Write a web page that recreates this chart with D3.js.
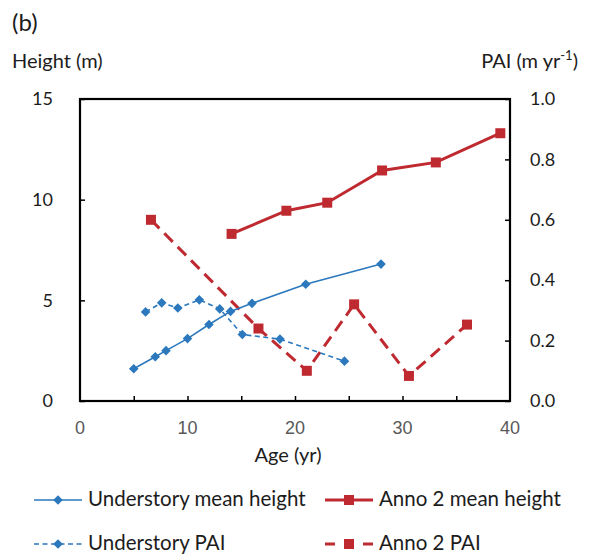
<!DOCTYPE html>
<html>
<head>
<meta charset="utf-8">
<script src="https://cdn.jsdelivr.net/npm/d3@7"></script>
<style>
  html, body { margin: 0; padding: 0; background: #fff; }
  svg { display: block; }
  .lbl { font-family: Lato, "Open Sans", sans-serif; fill: #1c1c1c; }
  .xtick { font-family: "Liberation Sans", Arial, sans-serif; fill: #595959; }
</style>
</head>
<body>
<svg id="chart" width="594" height="556"></svg>
<script>
// data (b)
const underAge    = [5, 7, 8, 10, 12, 14, 16, 21, 28];
const underHeight = [1.6, 2.2, 2.5, 3.1, 3.8, 4.45, 4.85, 5.8, 6.8];

const underPaiAge = [6.1, 7.6, 9.1, 11.1, 13, 15.1, 18.6, 24.6];
const underPai    = [0.295, 0.325, 0.308, 0.335, 0.305, 0.22, 0.205, 0.132];

const annoAge    = [14.1, 19.2, 23, 28.1, 33.1, 39.1];
const annoHeight = [8.3, 9.45, 9.85, 11.45, 11.85, 13.3];

const annoPaiAge = [6.6, 16.6, 21.1, 25.5, 30.6, 36];
const annoPai    = [0.6, 0.24, 0.1, 0.32, 0.083, 0.253];

const xTicks     = [0, 10, 20, 30, 40];
const xMinor     = [5, 10, 15, 20, 25, 30, 35];
const leftTicks  = [0, 5, 10, 15];
const rightTicks = [0, 0.2, 0.4, 0.6, 0.8, 1.0];

const BLUE = "#2b78bd";
const RED = "#bf2a30";

const svg = d3.select("#chart");

const x = d3.scaleLinear().domain([0, 40]).range([80, 510]);
const yL = d3.scaleLinear().domain([0, 15]).range([401, 99]);
const yR = d3.scaleLinear().domain([0, 1]).range([401, 99]);

/* ---------------- axes ---------------- */

// bottom: minor ticks inside, labels every 10
const xAxisG = svg.append("g")
    .attr("transform", `translate(0,${yL(0)})`)
    .call(d3.axisBottom(x).tickValues(xMinor).tickSizeInner(-5).tickSizeOuter(0).tickFormat(""));
xAxisG.select(".domain").remove();
xAxisG.selectAll("line").attr("stroke", "#000").attr("stroke-width", 1.5);

svg.append("g").selectAll("text")
    .data(xTicks)
    .join("text")
    .attr("class", "xtick")
    .attr("x", d => x(d))
    .attr("y", yL(0) + 33)
    .attr("text-anchor", "middle")
    .attr("font-size", 18)
    .text(d => d);

const leftG = svg.append("g")
    .attr("transform", `translate(${x(0)},0)`)
    .call(d3.axisLeft(yL).tickValues(leftTicks).tickSizeInner(-5).tickSizeOuter(0).tickPadding(27));
leftG.select(".domain").remove();
leftG.selectAll("line").attr("stroke", "#000").attr("stroke-width", 1.5);
leftG.selectAll("text").attr("class", "lbl").attr("font-size", 18).attr("font-family", null);

const rightG = svg.append("g")
    .attr("transform", `translate(${x(40)},0)`)
    .call(d3.axisRight(yR).tickValues(rightTicks).tickSizeInner(-5).tickSizeOuter(0).tickPadding(20)
        .tickFormat(d3.format(".1f")));
rightG.select(".domain").remove();
rightG.selectAll("line").attr("stroke", "#000").attr("stroke-width", 1.5);
rightG.selectAll("text").attr("class", "lbl").attr("font-size", 18).attr("font-family", null);

// plot frame
svg.append("rect")
    .attr("x", x(0)).attr("y", yL(15))
    .attr("width", x(40) - x(0)).attr("height", yL(0) - yL(15))
    .attr("fill", "none").attr("stroke", "#000").attr("stroke-width", 2.2);

/* ---------------- series ---------------- */

// diamond = square turned 45 degrees
function marker(size) {
    return d3.symbol().type(d3.symbolSquare).size(size)();
}
function markerRot(shape) {
    return shape === "diamond" ? " rotate(45)" : "";
}

function drawSeries(s) {
    const pts = s.ages.map((a, i) => [x(a), s.y(s.vals[i])]);
    svg.append("path")
        .attr("d", d3.line()(pts))
        .attr("fill", "none")
        .attr("stroke", s.color)
        .attr("stroke-width", s.width)
        .attr("stroke-dasharray", s.dash || null);
    svg.append("g").selectAll("path")
        .data(pts)
        .join("path")
        .attr("transform", d => `translate(${d[0]},${d[1]})${markerRot(s.shape)}`)
        .attr("d", marker(s.size))
        .attr("fill", s.color);
}

const series = [
    { name: "Understory mean height", ages: underAge, vals: underHeight, y: yL,
      color: BLUE, width: 1.6, dash: null, shape: "diamond", size: 46 },
    { name: "Anno 2 mean height", ages: annoAge, vals: annoHeight, y: yL,
      color: RED, width: 3, dash: null, shape: "square", size: 100 },
    { name: "Understory PAI", ages: underPaiAge, vals: underPai, y: yR,
      color: BLUE, width: 1.6, dash: "5,3.5", shape: "diamond", size: 46 },
    { name: "Anno 2 PAI", ages: annoPaiAge, vals: annoPai, y: yR,
      color: RED, width: 3, dash: "12,7", shape: "square", size: 100 }
];

// draw order: dashed first, then solid
[series[3], series[2], series[1], series[0]].forEach(drawSeries);

/* ---------------- labels ---------------- */

svg.append("text").attr("class", "lbl")
    .attr("x", 12).attr("y", 31).attr("font-size", 24).text("(b)");

svg.append("text").attr("class", "lbl")
    .attr("x", 12).attr("y", 68).attr("font-size", 20).text("Height (m)");

const pai = svg.append("text").attr("class", "lbl")
    .attr("x", 578).attr("y", 68).attr("font-size", 20).attr("text-anchor", "end");
pai.append("tspan").text("PAI (m yr");
pai.append("tspan").attr("font-size", 13).attr("dy", -8).text("-1");
pai.append("tspan").attr("dy", 8).text(")");

svg.append("text").attr("class", "lbl")
    .attr("x", 288).attr("y", 462).attr("font-size", 20).attr("text-anchor", "middle")
    .text("Age (yr)");

/* ---------------- legend ---------------- */

const legendPos = [
    { x: 34, y: 500 }, { x: 325, y: 500 },
    { x: 34, y: 544 }, { x: 325, y: 544 }
];

series.forEach((s, i) => {
    const p = legendPos[i];
    const g = svg.append("g").attr("transform", `translate(${p.x},${p.y})`);
    g.append("line")
        .attr("x1", 0).attr("x2", 48).attr("y1", 0).attr("y2", 0)
        .attr("stroke", s.color).attr("stroke-width", s.width)
        .attr("stroke-dasharray", s.dash ? (s.width > 2 ? "10,28,10" : "5,3.5") : null);
    g.append("path")
        .attr("transform", `translate(24,0)${markerRot(s.shape)}`)
        .attr("d", marker(s.size))
        .attr("fill", s.color);
    g.append("text").attr("class", "lbl")
        .attr("x", 54).attr("y", 6).attr("font-size", 20.5)
        .text(s.name);
});
</script>
</body>
</html>
